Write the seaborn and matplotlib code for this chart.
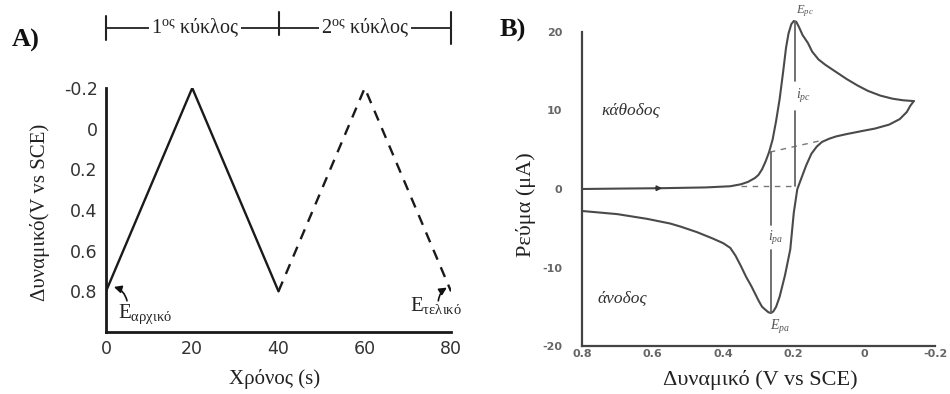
import matplotlib
matplotlib.use("Agg")
import matplotlib.pyplot as plt
import pandas as pd
import seaborn as sns

# ---------------- Panel A data ----------------
cycle1_t = [0, 20, 40]
cycle1_E = [0.8, -0.2, 0.8]
cycle2_t = [40, 60, 80]
cycle2_E = [0.8, -0.2, 0.8]
a_xticks = [0, 20, 40, 60, 80]
a_xticklabels = ["0", "20", "40", "60", "80"]
a_yticks = [-0.2, 0, 0.2, 0.4, 0.6, 0.8]
a_yticklabels = ["-0.2", "0", "0.2", "0.4", "0.6", "0.8"]

# ---------------- Panel B data ----------------
fwd_E = [0.80, 0.70, 0.58, 0.45, 0.38, 0.35, 0.33, 0.31, 0.30, 0.29, 0.28, 0.27,
         0.26, 0.25, 0.24, 0.23, 0.222, 0.215, 0.207, 0.20, 0.193, 0.185, 0.175,
         0.16, 0.148, 0.13, 0.11, 0.08, 0.05, 0.02, -0.01, -0.045, -0.08, -0.11,
         -0.14]
fwd_I = [0.0, 0.05, 0.1, 0.2, 0.35, 0.6, 0.9, 1.4, 1.8, 2.5, 3.5, 4.7,
         6.3, 8.7, 11.5, 15.0, 18.0, 19.8, 21.0, 21.4, 21.3, 20.6, 19.6,
         18.6, 17.5, 16.5, 15.8, 14.9, 14.0, 13.2, 12.5, 11.9, 11.5, 11.3,
         11.2]
rev_E = [-0.14, -0.13, -0.12, -0.10, -0.07, -0.03, 0.005, 0.05, 0.08, 0.10, 0.12,
         0.135, 0.15, 0.165, 0.18, 0.19, 0.20, 0.21, 0.225, 0.24, 0.25, 0.258,
         0.265, 0.272, 0.28, 0.29, 0.30, 0.31, 0.32, 0.335, 0.35, 0.365, 0.38,
         0.40, 0.43, 0.474, 0.52, 0.55, 0.616, 0.70, 0.80]
rev_I = [11.2, 10.6, 9.8, 8.9, 8.2, 7.7, 7.4, 7.0, 6.7, 6.4, 6.0,
         5.4, 4.5, 3.0, 1.2, 0.0, -3.0, -7.7, -11.0, -13.7, -15.0, -15.6,
         -15.8, -15.7, -15.4, -15.0, -14.2, -13.3, -12.4, -11.2, -9.8, -8.5, -7.5,
         -6.9, -6.3, -5.5, -4.8, -4.4, -3.8, -3.2, -2.8]
base_c_E = [0.35, 0.19]
base_c_I = [0.4, 0.4]
base_a_E = [0.268, 0.12]
base_a_I = [4.7, 6.2]
Epc, ipc_top, ipc_base = 0.198, 21.3, 0.4
Epa, ipa_bot, ipa_base = 0.265, -15.8, 4.7
b_xticks = [0.8, 0.6, 0.4, 0.2, 0, -0.2]
b_xticklabels = ["0.8", "0.6", "0.4", "0.2", "0", "-0.2"]
b_yticks = [-20, -10, 0, 10, 20]
b_yticklabels = ["-20", "-10", "0", "10", "20"]
b_yminor = [-15, -5, 5, 15]

sns.set_style("white")
plt.rcParams["font.family"] = ["DejaVu Sans"]
plt.rcParams["mathtext.fontset"] = "custom"
plt.rcParams["mathtext.rm"] = "Liberation Serif"
plt.rcParams["mathtext.it"] = "Liberation Serif:italic"
plt.rcParams["mathtext.bf"] = "Liberation Serif:bold"

SERIF = ["Liberation Serif", "DejaVu Serif"]
fig = plt.figure(figsize=(9.5, 3.94), dpi=100)

# ================= Panel A =================
axA = fig.add_axes([106 / 950, 1 - 332 / 394, 345 / 950, 244 / 394])
dfA1 = pd.DataFrame({"t": cycle1_t, "E": cycle1_E})
dfA2 = pd.DataFrame({"t": cycle2_t, "E": cycle2_E})
sns.lineplot(data=dfA1, x="t", y="E", ax=axA, color="#1a1a1a", lw=1.7,
             sort=False, estimator=None)
sns.lineplot(data=dfA2, x="t", y="E", ax=axA, color="#1a1a1a", lw=1.7,
             sort=False, estimator=None, linestyle=(0, (4.5, 3.5)))
axA.set_xlim(0, 80)
axA.set_ylim(1.0, -0.2)
axA.set_xticks(a_xticks, a_xticklabels)
axA.set_yticks(a_yticks, a_yticklabels)
for s in ["top", "right"]:
    axA.spines[s].set_visible(False)
for s in ["left", "bottom"]:
    axA.spines[s].set_linewidth(2.0)
    axA.spines[s].set_color("#1a1a1a")
axA.tick_params(direction="in", length=7, width=1.8, labelsize=12.5, pad=6,
                colors="#1a1a1a")
for lab in axA.get_xticklabels() + axA.get_yticklabels():
    lab.set_color("#333333")
axA.set_xlabel("Χρόνος (s)", fontsize=15, family=SERIF, color="#222222")
axA.set_ylabel("Δυναμικό(V vs SCE)", fontsize=15, family=SERIF, color="#222222")
axA.xaxis.set_label_coords(0.49, -0.15)
axA.yaxis.set_label_coords(-0.19, 0.49)
axA.yaxis.label.set_va("center")
axA.xaxis.label.set_va("top")

# annotations: E initial / final
axA.text(2.8, 0.915, r"E$_{\mathrm{αρχικό}}$", fontsize=15, va="center", ha="left",
         family=SERIF, color="#222222")
axA.annotate("", xy=(1.2, 0.775), xytext=(5.0, 0.86),
             arrowprops=dict(arrowstyle="-|>", connectionstyle="arc3,rad=0.35",
                             color="#111111", lw=1.2, mutation_scale=11))
axA.text(70.5, 0.87, r"E$_{\mathrm{τελικό}}$", fontsize=15, va="center", ha="left",
         family=SERIF, color="#222222")
axA.annotate("", xy=(79.6, 0.775), xytext=(77.0, 0.86),
             arrowprops=dict(arrowstyle="-|>", connectionstyle="arc3,rad=-0.3",
                             color="#111111", lw=1.2, mutation_scale=11))

# cycle bracket above panel A
trA = axA.get_xaxis_transform()
yb = (332 - 28) / 244
axA.plot([0, 80], [yb, yb], transform=trA, color="#222222", lw=1.3, clip_on=False)
for xv, y0, y1 in [(0, 1.197, 1.295), (40, 1.217, 1.311), (80, 1.18, 1.311)]:
    axA.plot([xv, xv], [y0, y1], transform=trA, color="#222222", lw=1.5, clip_on=False)
for xc, lab in [(20.6, "1"), (60.0, "2")]:
    axA.text(xc, yb, lab + r"$^{\mathrm{ος}}$ κύκλος", transform=trA, fontsize=14.5,
             ha="center", va="center", family=SERIF, color="#222222",
             bbox=dict(facecolor="white", edgecolor="none", pad=1.5))

fig.text(12 / 950, 1 - 40 / 394, "A)", fontsize=19, fontweight="bold",
         family=SERIF, va="center", ha="left", color="#111111")

# ================= Panel B =================
axB = fig.add_axes([582 / 950, 1 - 346 / 394, 353 / 950, 314 / 394])
cv = pd.DataFrame({"E": fwd_E + rev_E, "I": fwd_I + rev_I,
                   "branch": ["fwd"] * len(fwd_E) + ["rev"] * len(rev_E)})
sns.lineplot(data=cv, x="E", y="I", units="branch", estimator=None, sort=False,
             ax=axB, color="#4a4a4a", lw=1.5)
dash = (0, (4, 4))
sns.lineplot(x=base_c_E, y=base_c_I, ax=axB, color="#777777", lw=1.0,
             linestyle=dash, sort=False, estimator=None)
sns.lineplot(x=base_a_E, y=base_a_I, ax=axB, color="#777777", lw=1.0,
             linestyle=dash, sort=False, estimator=None)
# peak height lines
axB.plot([Epc, Epc], [ipc_top, 13.8], color="#666666", lw=1.3)
axB.plot([Epc, Epc], [10.0, ipc_base], color="#666666", lw=1.3)
axB.plot([Epa, Epa], [ipa_base, -4.6], color="#666666", lw=1.3)
axB.plot([Epa, Epa], [-7.8, ipa_bot], color="#666666", lw=1.3)
for ln in axB.lines:
    ln.set_clip_on(False)

axB.text(Epc - 0.004, 11.8, r"$i_{pc}$", fontsize=10, color="#555555",
         ha="left", va="center")
axB.text(Epc - 0.004, 22.6, r"$E_{pc}$", fontsize=9, color="#555555",
         ha="left", va="center")
axB.text(Epa + 0.008, -6.2, r"$i_{pa}$", fontsize=10, color="#555555",
         ha="left", va="center")
axB.text(Epa + 0.003, -17.6, r"$E_{pa}$", fontsize=10, color="#555555",
         ha="left", va="center")
axB.annotate("", xy=(0.565, 0.1), xytext=(0.60, 0.1),
             arrowprops=dict(arrowstyle="-|>", color="#333333", lw=1.0,
                             mutation_scale=8))

axB.text(0.746, 10, "κάθοδος", fontstyle="italic", fontsize=12.5, family=SERIF,
         ha="left", va="center", color="#333333")
axB.text(0.756, -14, "άνοδος", fontstyle="italic", fontsize=12.5, family=SERIF,
         ha="left", va="center", color="#333333")

axB.set_xlim(0.8, -0.2)
axB.set_ylim(-20, 20)
axB.set_xticks(b_xticks, b_xticklabels)
axB.set_yticks(b_yticks, b_yticklabels)
axB.set_yticks(b_yminor, minor=True)
for s in ["top", "right"]:
    axB.spines[s].set_visible(False)
for s in ["left", "bottom"]:
    axB.spines[s].set_linewidth(1.6)
    axB.spines[s].set_color("#444444")
axB.tick_params(axis="y", which="both", direction="in", length=5, width=1.3,
                labelsize=8, pad=14, colors="#444444")
axB.tick_params(axis="x", direction="in", length=5, width=1.3,
                labelsize=8, pad=2, colors="#444444")
for lab in axB.get_xticklabels() + axB.get_yticklabels():
    lab.set_fontweight("bold")
    lab.set_color("#666666")
axB.set_xlabel("Δυναμικό (V vs SCE)", fontsize=16, family=SERIF, color="#222222")
axB.set_ylabel("Ρεύμα (μA)", fontsize=16, family=SERIF, color="#222222")
axB.xaxis.set_label_coords(0.504, -0.075)
axB.xaxis.label.set_va("top")
axB.yaxis.set_label_coords(-0.158, 0.45)
axB.yaxis.label.set_va("center")

fig.text(500 / 950, 1 - 30 / 394, "B)", fontsize=19, fontweight="bold",
         family=SERIF, va="center", ha="left", color="#111111")

fig.savefig("out.png", dpi=100, facecolor="white")
